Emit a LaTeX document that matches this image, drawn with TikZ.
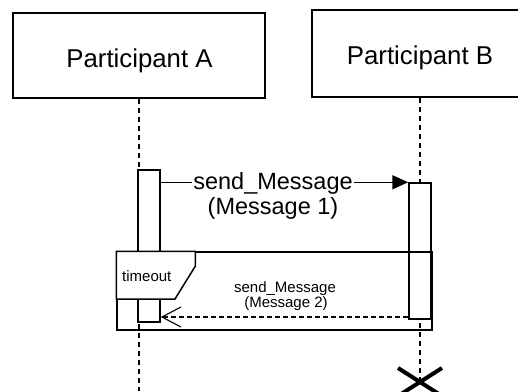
\documentclass[tikz,border=0pt]{standalone}
\usepackage{fontspec}
\setmainfont{Liberation Sans}
\usetikzlibrary{arrows.meta}
\tikzstyle{participant}=[draw, line width=1.5pt, inner sep=0]
\tikzstyle{big text}=[font=\fontsize{23.5}{28}\selectfont, inner sep=1pt]
\tikzstyle{name text}=[font=\fontsize{25.8}{30}\selectfont, inner sep=1pt]
\tikzstyle{small text}=[font=\fontsize{15}{17}\selectfont, inner sep=0]
\tikzstyle{lifeline}=[line width=1.5pt, dash pattern=on 5pt off 4pt]
\tikzstyle{activation}=[draw, fill=white, line width=1.5pt, minimum width=22pt, inner sep=0]
\tikzstyle{message}=[line width=1.5pt, -{Triangle[length=16pt, width=14pt]}]
\tikzstyle{reply}=[line width=1.1pt, dash pattern=on 5pt off 3pt, -{Straight Barb[length=19pt, width=20pt, line width=1.1pt]}]
\tikzstyle{fragment}=[draw, line width=1.5pt, inner sep=0]
\tikzstyle{destroy}=[line width=4pt]

\begin{document}
\begin{tikzpicture}[x=1pt, y=-1pt]
  \clip (0,0) rectangle (518,391);

  % participants and their lifelines
  \node[participant, minimum width=252pt, minimum height=85pt] (part_a) at (139, 55.5) {};
  \node[participant, minimum width=216pt, minimum height=87pt] (part_b) at (420, 53.5) {};
  \node[name text, anchor=base] (part_a_name) at (139.5, 67) {Participant A};
  \node[name text, anchor=base] (part_b_name) at (420, 64) {Participant B};
  \coordinate (end_a) at (139, 391);
  \coordinate (end_b) at (420, 382);
  \draw[lifeline] (part_a) -- (end_a);
  \draw[lifeline] (part_b) -- (end_b);

  % activation bars
  \node[activation, minimum height=152pt] (act_a) at (149, 246) {};
  \node[activation, minimum height=136pt] (act_b) at (420, 251) {};

  % first call
  \draw[message] (act_a.east |- act_b.north west) -- (act_b.north west);
  \node[big text, fill=white, anchor=base] (msg_one) at (273, 189) {send\_Message};
  \node[big text, anchor=base] (msg_one_note) at (273, 214) {(Message 1)};

  % timeout fragment
  \node[fragment, minimum width=315pt, minimum height=78pt] (frame) at (274.5, 291) {};
  \draw[line width=1.5pt, fill=white] (frame.north west) -- ++(79,0) -- ++(0,15)
    -- (175,299) -- (frame.west |- 0,299) -- cycle;
  \node[small text, anchor=base west] (tag) at (122, 281.5) {timeout};

  % answer inside the fragment
  \draw[reply] (act_b.west |- 0,317) -- (act_a.east |- 0,317);
  \node[small text, anchor=base] (msg_two) at (285, 292) {send\_Message};
  \node[small text, anchor=base] (msg_two_note) at (286, 307) {(Message 2)};

  % end of participant B
  \draw[destroy] (end_b) ++(-22,-14) -- ++(44,28);
  \draw[destroy] (end_b) ++(22,-14) -- ++(-44,28);
\end{tikzpicture}
\end{document}
